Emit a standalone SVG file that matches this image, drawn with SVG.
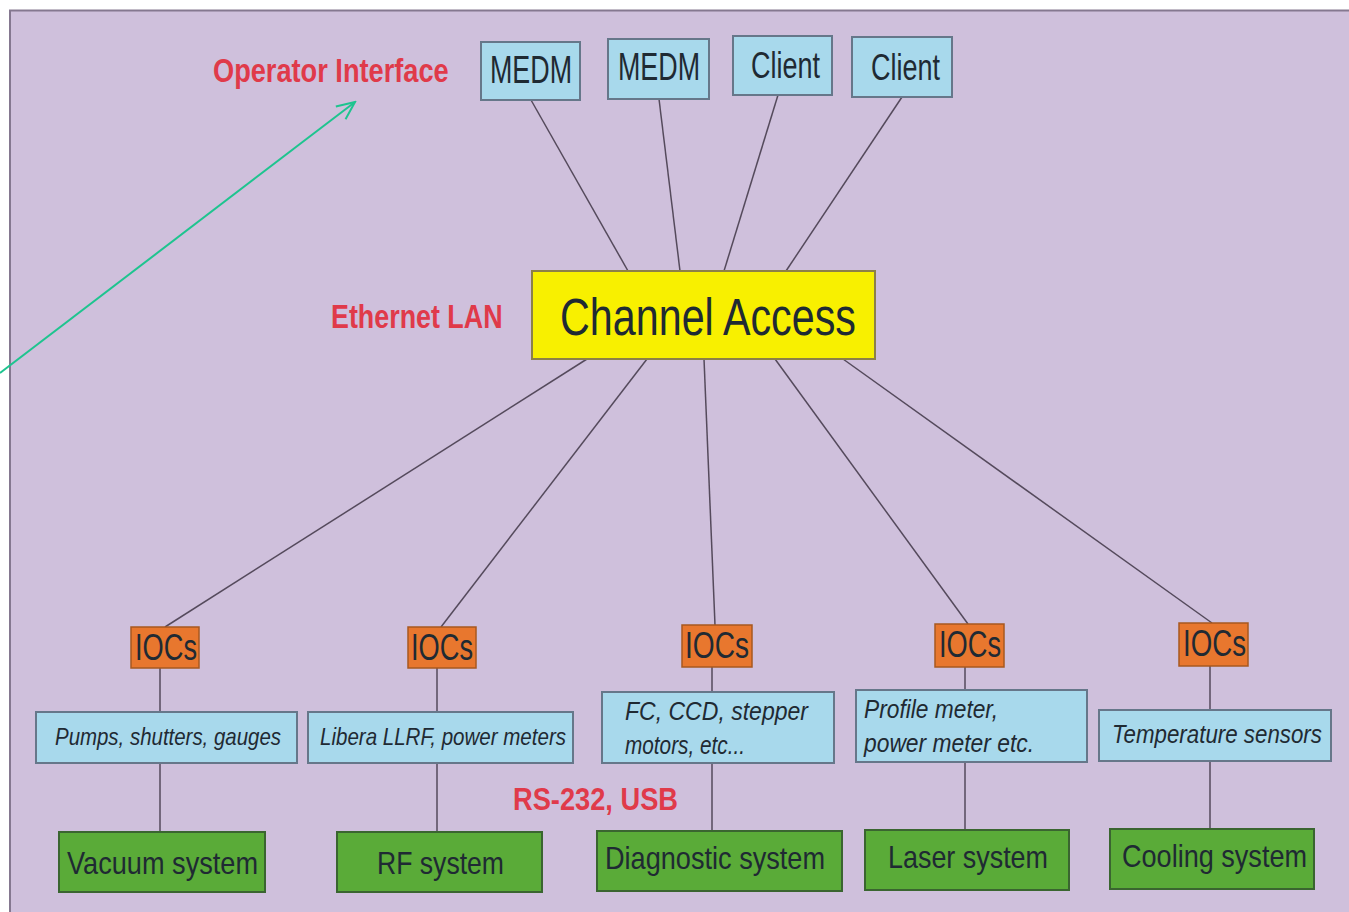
<svg xmlns="http://www.w3.org/2000/svg" width="1349" height="912" viewBox="0 0 1349 912">
<defs>
<marker id="arr" markerWidth="22" markerHeight="22" refX="20" refY="11" orient="auto" markerUnits="userSpaceOnUse">
<path d="M2,3 L20,11 L2,19" fill="none" stroke="#1ec48f" stroke-width="2"/>
</marker>
<style>
.t{font-family:"Liberation Sans",Arial,sans-serif;fill:#1f2a33}
.red{font-family:"Liberation Sans",Arial,sans-serif;font-weight:bold;fill:#e03a4a}
.blue{fill:#a8d9ec;stroke:#66778a;stroke-width:2}
.org{fill:#e8772e;stroke:#a8581f;stroke-width:1.5}
.grn{fill:#5aab38;stroke:#3a6530;stroke-width:2}
.it{font-style:italic}
.ln{stroke:#554a5c;stroke-width:1.5;fill:none}
</style>
</defs>
<rect x="0" y="0" width="1349" height="912" fill="#ffffff"/>
<rect x="10" y="10.5" width="1345" height="905" fill="#cfc0dc" stroke="#857890" stroke-width="2"/>

<g id="connectors">
<line class="ln" x1="531" y1="100" x2="628" y2="271"/>
<line class="ln" x1="659" y1="99" x2="680" y2="271"/>
<line class="ln" x1="778" y1="95" x2="724" y2="271"/>
<line class="ln" x1="902" y1="97" x2="786" y2="271"/>
<line class="ln" x1="587" y1="359" x2="165" y2="627"/>
<line class="ln" x1="647" y1="359" x2="441" y2="627"/>
<line class="ln" x1="704" y1="359" x2="715" y2="625"/>
<line class="ln" x1="775" y1="359" x2="968" y2="624"/>
<line class="ln" x1="843" y1="359" x2="1212" y2="623"/>
<line class="ln" x1="160" y1="668" x2="160" y2="832"/>
<line class="ln" x1="437" y1="668" x2="437" y2="832"/>
<line class="ln" x1="712" y1="667" x2="712" y2="831"/>
<line class="ln" x1="965" y1="667" x2="965" y2="830"/>
<line class="ln" x1="1210" y1="666" x2="1210" y2="829"/>
<line x1="0" y1="373" x2="355" y2="102" stroke="#1ec48f" stroke-width="2" marker-end="url(#arr)"/>
</g>

<g id="operator-interface-label"><text class="red" transform="translate(213,82) scale(0.8,1)" font-size="34">Operator Interface</text></g>
<g id="ethernet-lan-label"><text class="red" transform="translate(331,328) scale(0.79,1)" font-size="34">Ethernet LAN</text></g>
<g id="rs232-label"><text class="red" x="513" y="810" font-size="31" textLength="165" lengthAdjust="spacingAndGlyphs">RS-232, USB</text></g>

<g id="medm1"><rect class="blue" x="481" y="42" width="99" height="58"/><text class="t" transform="translate(490,83) scale(0.707,1)" font-size="38">MEDM</text></g>
<g id="medm2"><rect class="blue" x="608" y="39" width="101" height="60"/><text class="t" transform="translate(618,80) scale(0.707,1)" font-size="38">MEDM</text></g>
<g id="client1"><rect class="blue" x="733" y="36" width="99" height="59"/><text class="t" transform="translate(751,78) scale(0.75,1)" font-size="36">Client</text></g>
<g id="client2"><rect class="blue" x="852" y="37" width="100" height="60"/><text class="t" transform="translate(871,80) scale(0.75,1)" font-size="36">Client</text></g>

<g id="channel-access"><rect x="532" y="271" width="343" height="88" fill="#f8f000" stroke="#8c8048" stroke-width="2"/><text class="t" transform="translate(560,335) scale(0.794,1)" font-size="52">Channel Access</text></g>

<g id="iocs1"><rect class="org" x="131" y="627" width="68" height="41"/><text class="t" x="135" y="660" font-size="36" textLength="62" lengthAdjust="spacingAndGlyphs">IOCs</text></g>
<g id="iocs2"><rect class="org" x="408" y="627" width="68" height="41"/><text class="t" x="411" y="660" font-size="36" textLength="62" lengthAdjust="spacingAndGlyphs">IOCs</text></g>
<g id="iocs3"><rect class="org" x="682" y="625" width="70" height="42"/><text class="t" x="685" y="658" font-size="36" textLength="64" lengthAdjust="spacingAndGlyphs">IOCs</text></g>
<g id="iocs4"><rect class="org" x="935" y="624" width="69" height="43"/><text class="t" x="939" y="657" font-size="36" textLength="62" lengthAdjust="spacingAndGlyphs">IOCs</text></g>
<g id="iocs5"><rect class="org" x="1179" y="623" width="69" height="43"/><text class="t" x="1183" y="656" font-size="36" textLength="63" lengthAdjust="spacingAndGlyphs">IOCs</text></g>

<g id="pumps"><rect class="blue" x="36" y="712" width="261" height="51"/><text class="t it" x="55" y="745" font-size="24" textLength="226" lengthAdjust="spacingAndGlyphs">Pumps, shutters, gauges</text></g>
<g id="libera"><rect class="blue" x="308" y="712" width="265" height="51"/><text class="t it" x="320" y="745" font-size="24" textLength="246" lengthAdjust="spacingAndGlyphs">Libera LLRF, power meters</text></g>
<g id="fc-ccd"><rect class="blue" x="602" y="692" width="232" height="71"/><text class="t it" x="625" y="720" font-size="26" textLength="183" lengthAdjust="spacingAndGlyphs">FC, CCD, stepper</text><text class="t it" x="625" y="754" font-size="26" textLength="120" lengthAdjust="spacingAndGlyphs">motors, etc...</text></g>
<g id="profile"><rect class="blue" x="856" y="690" width="231" height="72"/><text class="t it" x="864" y="718" font-size="26" textLength="134" lengthAdjust="spacingAndGlyphs">Profile meter,</text><text class="t it" x="864" y="752" font-size="26" textLength="170" lengthAdjust="spacingAndGlyphs">power meter etc.</text></g>
<g id="temperature"><rect class="blue" x="1099" y="710" width="232" height="51"/><text class="t it" transform="translate(1112,743) scale(0.858,1)" font-size="26">Temperature sensors</text></g>

<g id="vacuum"><rect class="grn" x="59" y="832" width="206" height="60"/><text class="t" x="67" y="874" font-size="32" textLength="191" lengthAdjust="spacingAndGlyphs">Vacuum system</text></g>
<g id="rf"><rect class="grn" x="337" y="832" width="205" height="60"/><text class="t" x="377" y="874" font-size="32" textLength="127" lengthAdjust="spacingAndGlyphs">RF system</text></g>
<g id="diagnostic"><rect class="grn" x="597" y="831" width="245" height="60"/><text class="t" x="605" y="869" font-size="32" textLength="220" lengthAdjust="spacingAndGlyphs">Diagnostic system</text></g>
<g id="laser"><rect class="grn" x="865" y="830" width="204" height="60"/><text class="t" x="888" y="868" font-size="32" textLength="160" lengthAdjust="spacingAndGlyphs">Laser system</text></g>
<g id="cooling"><rect class="grn" x="1110" y="829" width="204" height="60"/><text class="t" x="1122" y="867" font-size="32" textLength="185" lengthAdjust="spacingAndGlyphs">Cooling system</text></g>
</svg>
